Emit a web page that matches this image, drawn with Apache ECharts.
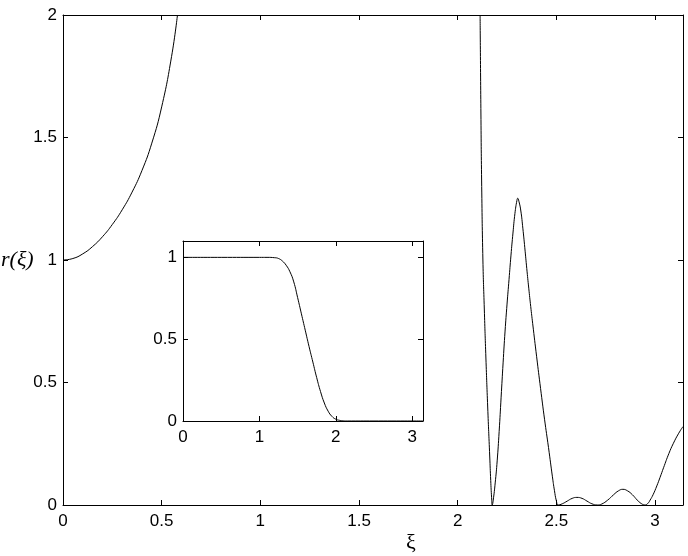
<!DOCTYPE html>
<html>
<head>
<meta charset="utf-8">
<script src="https://cdn.jsdelivr.net/npm/echarts@6/dist/echarts.min.js"></script>
<style>
  html, body { margin: 0; padding: 0; background: #fff; }
  #chart { width: 688px; height: 556px; }
</style>
</head>
<body>
<div id="chart"></div>
<script>
// tick values
const mainXTicks = [0, 0.5, 1, 1.5, 2, 2.5, 3];
const mainYTicks = [0, 0.5, 1, 1.5, 2];
const insetXTicks = [0, 1, 2, 3];
const insetYTicks = [0, 0.5, 1];

// main curve, left branch (leaves the box at r = 2)
const leftXi = [0, 0.05, 0.1, 0.15, 0.2, 0.25, 0.3, 0.35, 0.4, 0.45, 0.5, 0.55, 0.58];
const leftR  = [1.0, 1.006, 1.025, 1.055, 1.095, 1.145, 1.205, 1.277, 1.365, 1.477, 1.625, 1.83, 2.0];

// main curve, right branch
const rightXi = [2.1135, 2.1176, 2.1216, 2.1277, 2.1348, 2.1429, 2.152, 2.1622, 2.1673, 2.1718, 2.175,
                 2.18, 2.19, 2.2, 2.21, 2.22, 2.23, 2.24, 2.25, 2.26, 2.27, 2.28, 2.29, 2.3, 2.304,
                 2.31, 2.32, 2.33, 2.34, 2.35, 2.36, 2.37, 2.38, 2.4, 2.42, 2.44, 2.46, 2.48, 2.49, 2.5, 2.509,
                 2.53, 2.555, 2.58, 2.604, 2.63, 2.655, 2.68, 2.708,
                 2.73, 2.76, 2.79, 2.815, 2.837, 2.86, 2.885, 2.91, 2.93, 2.95,
                 2.965, 2.975, 2.99, 3.009, 3.025, 3.043, 3.07, 3.093, 3.12, 3.1416];
const rightR  = [2.0, 1.6, 1.3, 1.0, 0.8, 0.6, 0.4, 0.2, 0.1, 0.03, 0.0,
                 0.02, 0.09, 0.18, 0.3, 0.44, 0.58, 0.71, 0.82, 0.92, 1.02, 1.11, 1.19, 1.243, 1.252,
                 1.24, 1.2, 1.13, 1.05, 0.965, 0.885, 0.81, 0.74, 0.605, 0.475, 0.35, 0.235, 0.115, 0.06, 0.017, 0.0,
                 0.005, 0.016, 0.027, 0.031, 0.027, 0.016, 0.005, 0.0,
                 0.004, 0.02, 0.042, 0.058, 0.064, 0.058, 0.042, 0.02, 0.006, 0.0,
                 0.008, 0.02, 0.042, 0.078, 0.112, 0.152, 0.21, 0.252, 0.293, 0.32];

// inset curve
const insetXi = [0, 0.5, 1.0, 1.1, 1.2, 1.25, 1.3, 1.35, 1.4, 1.45, 1.5, 1.55, 1.6, 1.65, 1.7, 1.75,
                 1.8, 1.85, 1.9, 1.95, 2.0, 2.05, 2.1, 2.15, 2.5, 3.1416];
const insetR  = [1.0, 1.0, 1.0, 1.0, 0.998, 0.993, 0.978, 0.952, 0.912, 0.85, 0.755, 0.655, 0.555,
                 0.455, 0.36, 0.265, 0.18, 0.11, 0.06, 0.028, 0.011, 0.004, 0.001, 0.0, 0.0, 0.0];

const pair = (xs, ys) => xs.map((x, i) => [x, ys[i]]);

const labelFont = { color: '#000', fontFamily: 'Liberation Sans', fontSize: 17 };
const lineStyle = { color: '#000', width: 1 };

// value axis; the mirror axes on top/right only carry ticks
function axis(kind, grid, ticks, max, position, showLabel) {
    return {
        type: 'value',
        gridIndex: grid,
        position: position,
        min: ticks[0],
        max: max,
        interval: ticks[1] - ticks[0],
        axisLine: { show: true, onZero: false, lineStyle: lineStyle },
        axisTick: { show: true, inside: true, length: 5, lineStyle: lineStyle },
        splitLine: { show: false },
        axisLabel: Object.assign({ show: showLabel, margin: kind === 'x' ? 8 : 6,
                                   showMaxLabel: kind === 'y' && max === ticks[ticks.length - 1] }, labelFont),
    };
}

const chart = echarts.init(document.getElementById('chart'));
chart.setOption({
    backgroundColor: '#fff',
    animation: false,
    grid: [
        { left: 63, right: 5, top: 15, bottom: 51 },
        { left: 183, top: 241, width: 240, height: 180, backgroundColor: '#fff', show: true, borderWidth: 0 },
    ],
    xAxis: [
        axis('x', 0, mainXTicks, Math.PI, 'bottom', true),
        axis('x', 0, mainXTicks, Math.PI, 'top', false),
        axis('x', 1, insetXTicks, Math.PI, 'bottom', true),
        axis('x', 1, insetXTicks, Math.PI, 'top', false),
    ],
    yAxis: [
        axis('y', 0, mainYTicks, 2, 'left', true),
        axis('y', 0, mainYTicks, 2, 'right', false),
        axis('y', 1, insetYTicks, 1.1, 'left', true),
        axis('y', 1, insetYTicks, 1.1, 'right', false),
    ],
    series: [
        {
            type: 'line', xAxisIndex: 0, yAxisIndex: 0,
            data: pair(leftXi, leftR),
            showSymbol: false, smooth: 0.5, lineStyle: lineStyle,
        },
        {
            type: 'line', xAxisIndex: 0, yAxisIndex: 0,
            data: pair(rightXi, rightR),
            showSymbol: false, smooth: 0.5, lineStyle: lineStyle,
        },
        {
            type: 'line', xAxisIndex: 2, yAxisIndex: 2,
            data: pair(insetXi, insetR),
            showSymbol: false, smooth: 0.5, lineStyle: lineStyle,
        },
    ],
    graphic: [
        {
            type: 'text', x: 1, y: 260,
            style: { text: 'r(ξ)', font: 'italic 22px "Liberation Serif"', fill: '#000',
                     textAlign: 'left', textVerticalAlign: 'middle' },
        },
        {
            type: 'text', x: 411, y: 543,
            style: { text: 'ξ', font: '22px "Liberation Serif"', fill: '#000',
                     textAlign: 'center', textVerticalAlign: 'middle' },
        },
    ],
});
</script>
</body>
</html>
